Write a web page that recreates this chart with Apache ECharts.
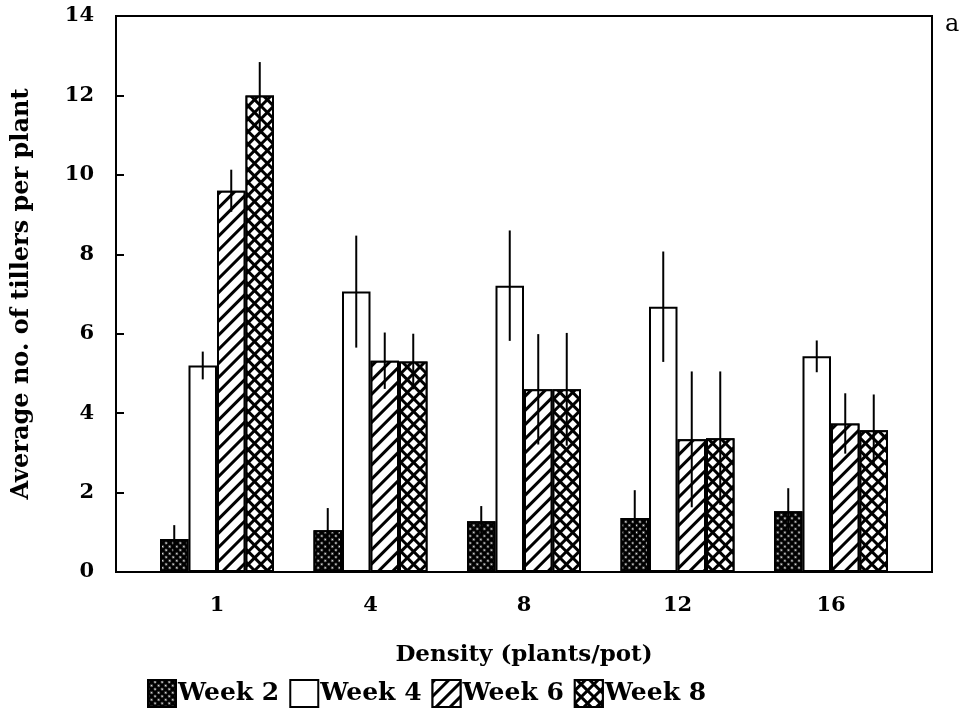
<!DOCTYPE html>
<html>
<head>
<meta charset="utf-8">
<script src="https://cdn.jsdelivr.net/npm/echarts@6/dist/echarts.min.js"></script>
<style>
  html, body { margin: 0; padding: 0; background: #fff; }
  #main { width: 967px; height: 710px; }
</style>
</head>
<body>
<div id="main"></div>
<script>
// density groups and weeks
var densities = ['1', '4', '8', '12', '16'];
var weeks = ['Week 2', 'Week 4', 'Week 6', 'Week 8'];

// mean tillers per plant
var week2 = [0.83, 1.05, 1.28, 1.36, 1.53];
var week4 = [5.2, 7.06, 7.21, 6.68, 5.43];
var week6 = [9.6, 5.32, 4.6, 3.34, 3.74];
var week8 = [12.0, 5.3, 4.6, 3.37, 3.57];

// standard errors
var week2Err = [0.35, 0.56, 0.38, 0.7, 0.58];
var week4Err = [0.35, 1.41, 1.39, 1.39, 0.4];
var week6Err = [0.53, 0.71, 1.39, 1.71, 0.76];
var week8Err = [0.84, 0.7, 1.42, 1.68, 0.9];

var yTicks = [0, 2, 4, 6, 8, 10, 12, 14];

var FONT = 'DejaVu Serif';
var BAR_W = 28.5;

var means = [week2, week4, week6, week8];
var errs = [week2Err, week4Err, week6Err, week8Err];

var patterns = [
    {color: '#000', decal: {symbol: 'circle', symbolSize: 0.7, color: '#fff', backgroundColor: '#000',
        dashArrayX: [3, 1.5], dashArrayY: [3, 1.5], rotation: Math.PI / 4}},
    {color: '#fff', decal: 'none'},
    {color: '#fff', decal: {symbol: 'rect', symbolSize: 1, color: '#000', backgroundColor: '#fff',
        dashArrayX: [1, 0], dashArrayY: [2.5, 7], rotation: -Math.PI / 4}},
    {color: '#000', decal: {symbol: 'rect', symbolSize: 1, color: '#fff', backgroundColor: '#000',
        dashArrayX: [6, 2.5], dashArrayY: [6, 2.5], rotation: Math.PI / 4}}
];

var myChart = echarts.init(document.getElementById('main'));

function barSeries(k) {
    var style = {color: patterns[k].color, borderColor: '#000', borderWidth: 2};
    if (patterns[k].decal !== 'none') style.decal = patterns[k].decal;
    return {
        name: weeks[k],
        type: 'bar',
        xAxisIndex: 1,
        yAxisIndex: 1,
        barWidth: BAR_W,
        barGap: '0%',
        itemStyle: style,
        emphasis: {disabled: true},
        data: means[k]
    };
}

function errSeries(k) {
    var data = [];
    for (var i = 0; i < densities.length; i++) {
        data.push([i, means[k][i], errs[k][i]]);
    }
    return {
        name: weeks[k] + ' err',
        type: 'custom',
        xAxisIndex: 1,
        yAxisIndex: 1,
        z: 10,
        silent: true,
        renderItem: function (params, api) {
            var hi = api.coord([api.value(0), api.value(1) + api.value(2)]);
            var lo = api.coord([api.value(0), api.value(1) - api.value(2)]);
            var x = hi[0] + (k - 1.5) * BAR_W;
            return {
                type: 'line',
                shape: {x1: x, y1: hi[1], x2: x, y2: lo[1]},
                style: {stroke: '#000', lineWidth: 2}
            };
        },
        data: data
    };
}

var series = [];
for (var k = 0; k < 4; k++) series.push(barSeries(k));
for (var k2 = 0; k2 < 4; k2++) series.push(errSeries(k2));

var option = {
    animation: false,
    title: {
        text: 'a', left: 940, top: 8,
        textStyle: {fontFamily: FONT, fontSize: 24, fontWeight: 'normal', color: '#000'}
    },
    legend: {
        data: weeks,
        left: 142,
        top: 674,
        icon: 'rect',
        itemWidth: 28,
        itemHeight: 27,
        itemGap: 10,
        textStyle: {fontFamily: FONT, fontSize: 25, fontWeight: 'bold', color: '#000', padding: [0, 0, 0, -3]}
    },
    grid: [
        // outer frame
        {left: 116, top: 16, width: 816, height: 556, show: true, borderColor: '#000', borderWidth: 2,
            backgroundColor: 'transparent'},
        // data area
        {left: 140.25, top: 16, width: 767.5, height: 556}
    ],
    xAxis: [
        {gridIndex: 0, type: 'value', show: false, min: 0, max: 1},
        {
            gridIndex: 1,
            type: 'category',
            data: densities,
            axisLine: {show: false},
            axisTick: {show: false},
            axisLabel: {fontFamily: FONT, fontSize: 21, fontWeight: 'bold', color: '#000', margin: 23},
            name: 'Density (plants/pot)',
            nameLocation: 'middle',
            nameGap: 72,
            nameTextStyle: {fontFamily: FONT, fontSize: 23, fontWeight: 'bold', color: '#000'}
        }
    ],
    yAxis: [
        {gridIndex: 0, type: 'value', show: false, min: 0, max: 1},
        {
            gridIndex: 1,
            type: 'value',
            min: yTicks[0],
            max: yTicks[yTicks.length - 1],
            interval: 2,
            offset: 24.25,
            axisLine: {show: true, lineStyle: {color: '#000', width: 2}},
            axisTick: {show: true, inside: true, length: 8, lineStyle: {color: '#000', width: 2}},
            splitLine: {show: false},
            axisLabel: {fontFamily: FONT, fontSize: 21, fontWeight: 'bold', color: '#000', margin: 22},
            name: 'Average no. of tillers per plant',
            nameLocation: 'middle',
            nameGap: 82,
            nameTextStyle: {fontFamily: FONT, fontSize: 24, fontWeight: 'bold', color: '#000'}
        }
    ],
    series: series
};

myChart.setOption(option);
</script>
</body>
</html>
